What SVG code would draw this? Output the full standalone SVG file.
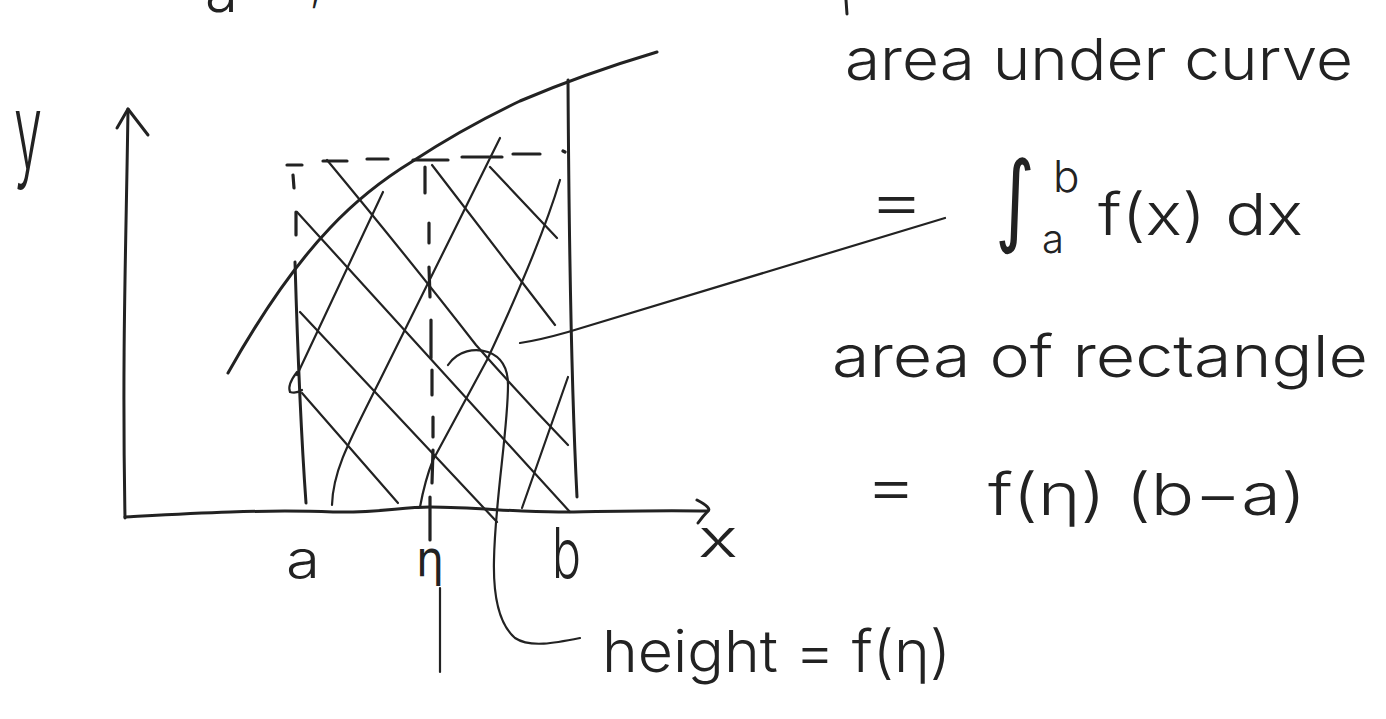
<svg xmlns="http://www.w3.org/2000/svg" width="1386" height="719" viewBox="0 0 1386 719">
<style>
.ln{fill:none;stroke:#222;stroke-width:3;stroke-linecap:round;stroke-linejoin:round}
.th{fill:none;stroke:#222;stroke-width:2.2;stroke-linecap:round;stroke-linejoin:round}
.ds{fill:none;stroke:#222;stroke-width:3.2;stroke-linecap:round}
.tx{font-family:Inter,Lato,"Liberation Sans",sans-serif;font-weight:300;fill:#222}
.sym{font-family:"DejaVu Sans",sans-serif;font-weight:normal;fill:#222}
</style>
<rect width="1386" height="719" fill="#fff"/>

<g id="fragments">
<text class="tx" x="205" y="12" font-size="60">a</text>
<text class="tx" x="310" y="2" font-size="40">,</text>
<line class="ln" x1="846" y1="0" x2="847" y2="14"/>
</g>

<g id="axes">
<path class="ln" d="M128,109 C126,250 122,350 125,518"/>
<path class="ln" d="M117,128 L128,109 L148,135"/>
<path class="ln" d="M125,517 C180,514 260,509 333,512 C380,513 400,507 430,507 C480,507 520,513 567,512 C620,511 660,510 708,511"/>
<path class="ln" d="M697,500 Q712,508 708,511 Q703,516 698,523"/>
<text class="tx" x="14" y="168" font-size="105" textLength="28" lengthAdjust="spacingAndGlyphs">y</text>
<text class="tx" x="698" y="557" font-size="52" textLength="40" lengthAdjust="spacingAndGlyphs">x</text>
<text class="tx" x="286" y="578" font-size="52" textLength="34" lengthAdjust="spacingAndGlyphs">a</text>
<text class="tx" x="552" y="578" font-size="70" textLength="29" lengthAdjust="spacingAndGlyphs">b</text>
<text class="sym" x="416" y="576" font-size="50" textLength="28" lengthAdjust="spacingAndGlyphs">η</text>
<line class="th" x1="440" y1="588" x2="440" y2="672"/>
</g>

<g id="curve">
<path class="ln" d="M228,373 C255,325 290,270 330,228 C360,196 390,175 413,161 C445,140 480,120 520,101 C560,84 610,66 657,52"/>
</g>

<g id="rectangle">
<path class="ln" d="M568,80 C569,250 572,400 577,497"/>
<path class="ln" d="M295,262 C297,330 300,420 306,503"/>
<path class="ds" d="M287,165 L302,165 M323,161 L347,161 M367,159 L388,159 M413,160 L448,160 M462,157 L502,157 M513,154 L540,154 M563,151 L565,152"/>
<path class="ds" d="M293,175 L294,188 M296,212 L296,235"/>
<path class="ds" d="M425,167 L425,193 M429,223 L429,243 M429,267 L430,297 M431,320 L431,358 M432,370 L432,395 M433,417 L433,437 M433,450 L432,483 M430,497 L430,540"/>
</g>

<g id="hatching">
<path class="th" d="M327,160 Q410,260 476,345 Q520,395 568,445"/>
<path class="th" d="M297,212 L570,512"/>
<path class="th" d="M300,312 L497,522"/>
<path class="th" d="M302,393 L398,503"/>
<path class="th" d="M432,165 L555,325"/>
<path class="th" d="M490,167 L557,238"/>
<path class="th" d="M383,192 L297,375"/>
<path class="th" d="M297,372 Q287,385 290,392 Q296,394 302,390"/>
<path class="th" d="M500,138 L380,380 C350,440 333,470 332,505"/>
<path class="th" d="M560,180 C545,230 515,300 487,360 L433,460 Q425,480 420,507"/>
<path class="th" d="M568,377 L522,508"/>
</g>

<g id="connectors">
<path class="th" d="M520,343 Q540,340 568,332 L945,218"/>
<path class="th" d="M448,365 C458,350 475,348 488,352 C502,357 508,368 508,385 C508,430 495,500 494,560 C493,600 500,625 515,638 C530,648 555,643 580,638"/>
</g>

<g id="text-area-under-curve">
<text class="tx" x="845" y="80" font-size="58" textLength="508" lengthAdjust="spacingAndGlyphs">area under curve</text>
</g>
<g id="text-integral">
<text class="tx" x="868" y="222" font-size="60" textLength="57" lengthAdjust="spacingAndGlyphs">=</text>
<text class="sym" x="995" y="233" font-size="100" textLength="40" lengthAdjust="spacingAndGlyphs">∫</text>
<text class="tx" x="1053" y="192" font-size="44">b</text>
<text class="tx" x="1042" y="253" font-size="40">a</text>
<text class="tx" x="1098" y="235" font-size="58" textLength="205" lengthAdjust="spacingAndGlyphs">f(x) dx</text>
</g>
<g id="text-area-of-rectangle">
<text class="tx" x="832" y="377" font-size="58" textLength="536" lengthAdjust="spacingAndGlyphs">area of rectangle</text>
</g>
<g id="text-rect-formula">
<text class="tx" x="865" y="507" font-size="60" textLength="52" lengthAdjust="spacingAndGlyphs">=</text>
<text class="tx" x="988" y="515" font-size="58" textLength="318" lengthAdjust="spacingAndGlyphs">f(η) (b−a)</text>
</g>
<g id="text-height">
<text class="tx" x="602" y="672" font-size="58" textLength="349" lengthAdjust="spacingAndGlyphs">height = f(η)</text>
</g>
</svg>
